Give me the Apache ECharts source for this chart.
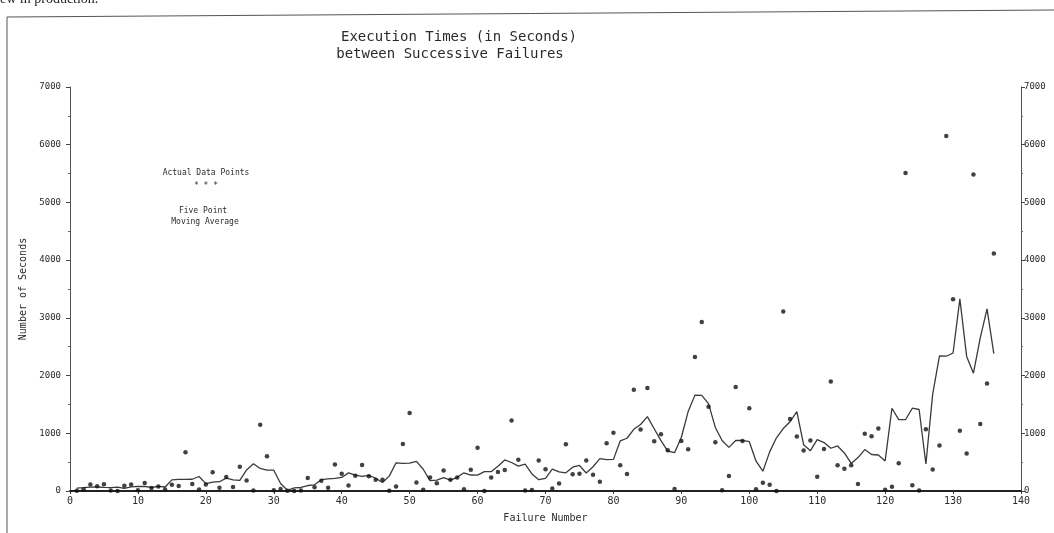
<!DOCTYPE html>
<html>
<head>
<meta charset="utf-8">
<script src="https://cdn.jsdelivr.net/npm/echarts@6/dist/echarts.min.js"></script>
<style>html,body{margin:0;padding:0;background:#fff;}#c{width:1054px;height:533px;}</style>
</head>
<body>
<div id="c"></div>
<script>
// Execution time (seconds) between successive failures, failures 1..136
var executionTimes = [3,30,113,81,115,9,2,91,112,15,138,50,77,24,108,88,670,120,26,114,
325,55,242,68,422,180,10,1146,600,15,36,4,0,8,227,65,176,58,457,300,
97,263,452,255,197,193,6,79,816,1351,148,21,233,134,357,193,236,31,369,748,
0,232,330,365,1222,543,10,16,529,379,44,129,810,290,300,529,281,160,828,1011,
445,296,1755,1064,1783,860,983,707,33,868,724,2323,2930,1461,843,12,261,1800,865,1435,
30,143,108,0,3110,1247,943,700,875,245,729,1897,447,386,446,122,990,948,1082,22,
75,482,5509,100,10,1071,371,790,6150,3321,1045,648,5485,1160,1864,4116];
// Five point moving average, as drawn (failures 1..136)
var movingAverage = [48.7,56.8,68.4,69.6,64,59.6,65.8,45.8,71.6,81.2,78.4,60.8,79.4,69.4,193.4,202,202.4,203.6,251,128,
152.4,160.8,222.4,193.4,184.4,365.2,471.6,390.2,361.4,360.2,131,12.6,55,60.8,95.2,106.8,196.6,211.2,217.6,235,
313.8,273.4,252.8,272,220.6,146,258.2,489,480,483,513.8,377.4,178.6,187.6,230.6,190.2,237.2,315.4,276.8,276,
335.8,335,429.8,538.4,494,431.2,464,295.4,195.6,219.4,378.2,330.4,314.6,411.6,442,312,419.6,561.8,545,548,
867,914.2,1068.6,1151.6,1289,1079.4,873.2,690.2,663,931,1375.6,1661.2,1656.2,1513.8,1101.4,875.4,756.2,874.6,878.2,854.6,
516.2,343.2,678.2,921.6,1081.6,1200,1375,802,698.4,889.2,838.6,740.8,781,659.6,478.2,578.4,717.6,632.8,623.4,521.8,
1434,1237.6,1235.2,1434.4,1412.2,468.4,1678.4,2340.6,2335.4,2390.8,3329.8,2331.8,2040.4,2654.6,3156.3,2380];
var xTicks = [0,140,10];
var yTicks = [0,7000,1000];
var titleLines = ['Execution Times (in Seconds)','between Successive Failures'];
var legendLines = ['Actual Data Points','* * *','Five Point','Moving Average'];

var pts = executionTimes.map(function(v,i){return [i+1,v];});
var ma = movingAverage.map(function(v,i){return [i+1,v];});
var F = 'DejaVu Sans Mono';
var ink = '#2a2a2a';
var plain = function(v){return String(v);};

var chart = echarts.init(document.getElementById('c'));
chart.setOption({
  backgroundColor:'#fff',
  animation:false,
  grid:{left:70,right:33,top:87,bottom:42},
  xAxis:{type:'value',min:xTicks[0],max:xTicks[1],interval:xTicks[2],
    name:'Failure Number',nameLocation:'middle',nameGap:22,
    nameTextStyle:{fontFamily:F,fontSize:10,color:ink},
    axisLine:{lineStyle:{color:'#222',width:2}},
    axisTick:{length:3,lineStyle:{color:'#333'}},
    axisLabel:{fontFamily:F,fontSize:10,color:ink,margin:5,formatter:plain},
    splitLine:{show:false}},
  yAxis:[{type:'value',min:yTicks[0],max:yTicks[1],interval:yTicks[2],position:'left',
    name:'Number of Seconds',nameLocation:'middle',nameGap:37,
    nameTextStyle:{fontFamily:F,fontSize:10,color:ink},
    axisLine:{show:true,lineStyle:{color:'#555',width:1}},
    axisTick:{show:true,length:4,lineStyle:{color:'#444'}},
    minorTick:{show:true,splitNumber:2,length:2,lineStyle:{color:'#666'}},
    axisLabel:{fontFamily:F,fontSize:9,color:ink,margin:9,formatter:plain},
    splitLine:{show:false}},
   {type:'value',min:yTicks[0],max:yTicks[1],interval:yTicks[2],position:'right',
    axisLine:{show:true,lineStyle:{color:'#555',width:1}},
    axisTick:{show:true,length:4,lineStyle:{color:'#444'}},
    minorTick:{show:true,splitNumber:2,length:2,lineStyle:{color:'#666'}},
    axisLabel:{fontFamily:F,fontSize:9,color:ink,margin:3,formatter:plain},
    splitLine:{show:false}}],
  series:[
    {type:'line',name:'Five Point Moving Average',data:ma,showSymbol:false,symbol:'none',
     lineStyle:{color:'#3a3a3a',width:1.3},z:2},
    {type:'scatter',name:'Actual Data Points',data:pts,symbol:'circle',symbolSize:4.5,
     itemStyle:{color:'#111'},z:3}
  ],
  graphic:[
    {type:'text',left:0,top:-8,style:{text:'ew in production.',fontFamily:'Liberation Serif',fontSize:14,fill:'#222'}},
    {type:'polyline',shape:{points:[[7,533],[7,17],[1054,10]]},style:{stroke:'#555',lineWidth:1,fill:null}},
    {type:'text',x:459,y:37,style:{text:titleLines[0],fontFamily:F,fontSize:14,fill:ink,align:'center',verticalAlign:'middle'}},
    {type:'text',x:450,y:54,style:{text:titleLines[1],fontFamily:F,fontSize:14,fill:ink,align:'center',verticalAlign:'middle'}},
    {type:'text',x:206,y:173,style:{text:legendLines[0],fontFamily:F,fontSize:8,fill:ink,align:'center',verticalAlign:'middle'}},
    {type:'text',x:206,y:186,style:{text:legendLines[1],fontFamily:F,fontSize:8,fill:ink,align:'center',verticalAlign:'middle'}},
    {type:'text',x:203,y:211,style:{text:legendLines[2],fontFamily:F,fontSize:8,fill:ink,align:'center',verticalAlign:'middle'}},
    {type:'text',x:205,y:222,style:{text:legendLines[3],fontFamily:F,fontSize:8,fill:ink,align:'center',verticalAlign:'middle'}}
  ]
});
</script>
</body>
</html>
